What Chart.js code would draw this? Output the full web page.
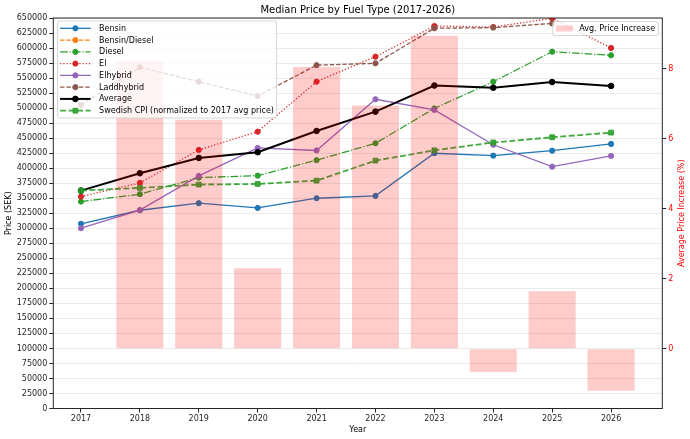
<!DOCTYPE html>
<html>
<head>
<meta charset="utf-8">
<script src="https://cdn.jsdelivr.net/npm/chart.js@4"></script>
<style>
  html, body { margin: 0; padding: 0; background: #fff; }
  #wrap { width: 690px; height: 439px; }
</style>
</head>
<body>
<div id="wrap"><canvas id="chart"></canvas></div>
<script>
const years = [2017, 2018, 2019, 2020, 2021, 2022, 2023, 2024, 2025, 2026];
const bensin = [307500, 330000, 341700, 333900, 350000, 353900, 424900, 420900, 429200, 440400];
const bensinDiesel = [null, null, null, null, null, null, null, null, null, null];
const diesel = [344400, 356700, 384300, 387600, 413300, 441500, 499500, 544000, 593900, 588000];
const el = [352700, 375500, 430400, 460800, 544000, 585600, 636700, 635000, 649500, 600100];
const elhybrid = [300100, 330100, 387100, 433700, 429500, 514700, 497000, 439000, 402600, 420400];
const laddhybrid = [505300, 568000, 544000, 520200, 571500, 574600, 632900, 634000, 641000, null];
const average = [362700, 391600, 417100, 426600, 462000, 494100, 537600, 534000, 543500, 536900];
const cpi = [362700, 367200, 372700, 373800, 379300, 412600, 429800, 442800, 451500, 459200];

const increaseYears = [2018, 2019, 2020, 2021, 2022, 2023, 2024, 2025, 2026];
const increase = [8.22, 6.54, 2.30, 8.05, 6.95, 8.94, -0.67, 1.64, -1.20];
const rightTicks = [0, 2, 4, 6, 8];

const FONT = '"DejaVu Sans", sans-serif';

function pts(vals) {
  return years.map((y, i) => ({ x: y, y: vals[i] }));
}

function lineSet(label, vals, color, opts) {
  return Object.assign({
    type: 'line',
    label,
    data: pts(vals),
    borderColor: color,
    backgroundColor: color,
    pointBackgroundColor: color,
    pointBorderColor: color,
    borderWidth: 1.3,
    pointRadius: 2.6,
    pointBorderWidth: 1,
    pointStyle: 'circle',
    borderDash: [],
    tension: 0,
    yAxisID: 'y'
  }, opts || {});
}

const lines = [
  lineSet('Bensin', bensin, '#1f77b4'),
  lineSet('Bensin/Diesel', bensinDiesel, '#ff7f0e', { borderDash: [4.4, 1.9] }),
  lineSet('Diesel', diesel, '#2ca02c', { borderDash: [7.7, 1.9, 1.2, 1.9] }),
  lineSet('El', el, '#d62728', { borderDash: [1.2, 2] }),
  lineSet('Elhybrid', elhybrid, '#9467bd'),
  lineSet('Laddhybrid', laddhybrid, '#8c564b', { borderDash: [4.4, 1.9] }),
  lineSet('Average', average, '#000000', { borderWidth: 2, pointRadius: 2.8 }),
  lineSet('Swedish CPI (normalized to 2017 avg price)', cpi, 'rgba(44,160,44,0.9)', {
    borderWidth: 1.8, borderDash: [5.9, 2.6], pointStyle: 'rect', pointRadius: 3.4
  })
];
lines.forEach((d, i) => { d.order = 20 - i; });

const bars = {
  type: 'bar',
  label: 'Avg. Price Increase',
  data: increaseYears.map((y, i) => ({ x: y, y: increase[i] })),
  backgroundColor: 'rgba(255,0,0,0.2)',
  borderWidth: 0,
  categoryPercentage: 1,
  barPercentage: 0.8,
  yAxisID: 'y2',
  order: 0
};

function roundRect(ctx, x, y, w, h, r) {
  ctx.beginPath();
  ctx.moveTo(x + r, y);
  ctx.lineTo(x + w - r, y);
  ctx.arcTo(x + w, y, x + w, y + r, r);
  ctx.lineTo(x + w, y + h - r);
  ctx.arcTo(x + w, y + h, x + w - r, y + h, r);
  ctx.lineTo(x + r, y + h);
  ctx.arcTo(x, y + h, x, y + h - r, r);
  ctx.lineTo(x, y + r);
  ctx.arcTo(x, y, x + r, y, r);
  ctx.closePath();
}

function marker(ctx, d, x, y) {
  ctx.fillStyle = d.pointBackgroundColor;
  ctx.strokeStyle = d.pointBorderColor;
  ctx.lineWidth = 1;
  ctx.setLineDash([]);
  ctx.beginPath();
  if (d.pointStyle === 'rect') {
    const s = d.pointRadius * Math.SQRT1_2;
    ctx.rect(x - s, y - s, 2 * s, 2 * s);
  } else {
    ctx.arc(x, y, d.pointRadius, 0, Math.PI * 2);
  }
  ctx.fill();
  ctx.stroke();
}

// matplotlib-like frame, legends and right axis label
const decor = {
  id: 'decor',
  afterDraw(chart) {
    const { ctx, chartArea: a } = chart;
    ctx.save();
    ctx.strokeStyle = '#262626';
    ctx.lineWidth = 1;
    ctx.strokeRect(a.left, a.top, a.right - a.left, a.bottom - a.top);

    // left legend
    const bx = a.left + 4.3, by = a.top + 3, bw = 219, bh = 97;
    roundRect(ctx, bx, by, bw, bh, 2);
    ctx.fillStyle = 'rgba(255,255,255,0.8)';
    ctx.fill();
    ctx.strokeStyle = 'rgba(204,204,204,0.8)';
    ctx.stroke();
    ctx.font = '8px ' + FONT;
    ctx.textBaseline = 'middle';
    lines.forEach((d, i) => {
      const y = by + 7.3 + i * 11.77;
      ctx.strokeStyle = d.borderColor;
      ctx.lineWidth = d.borderWidth;
      ctx.setLineDash(d.borderDash);
      ctx.beginPath();
      ctx.moveTo(bx + 2.5, y);
      ctx.lineTo(bx + 33, y);
      ctx.stroke();
      marker(ctx, d, bx + 17.8, y);
      ctx.fillStyle = '#000';
      ctx.fillText(d.label, bx + 41.5, y + 0.5);
    });

    // right legend
    const rx = a.right - 109.5, ry = a.top + 3.5, rw = 105.5, rh = 14;
    roundRect(ctx, rx, ry, rw, rh, 2);
    ctx.fillStyle = 'rgba(255,255,255,0.8)';
    ctx.fill();
    ctx.strokeStyle = 'rgba(204,204,204,0.8)';
    ctx.lineWidth = 1;
    ctx.setLineDash([]);
    ctx.stroke();
    ctx.fillStyle = bars.backgroundColor;
    ctx.fillRect(rx + 3, ry + 4, 17, 6);
    ctx.fillStyle = '#000';
    ctx.fillText(bars.label, rx + 26.5, ry + 7.5);

    // right axis title (reads bottom to top)
    ctx.translate(chart.width - 8.3, (a.top + a.bottom) / 2);
    ctx.rotate(-Math.PI / 2);
    ctx.textAlign = 'center';
    ctx.fillStyle = 'red';
    ctx.fillText('Average Price Increase (%)', 0, 0);
    ctx.restore();
  }
};

const tickFont = { family: FONT, size: 8 };

new Chart(document.getElementById('chart'), {
  type: 'line',
  data: { datasets: [...lines, bars] },
  options: {
    responsive: true,
    maintainAspectRatio: false,
    animation: false,
    layout: { padding: 0 },
    plugins: {
      legend: { display: false },
      tooltip: { enabled: false },
      title: {
        display: true,
        text: 'Median Price by Fuel Type (2017-2026)',
        fullSize: false,
        color: '#000',
        font: { family: FONT, size: 10, weight: 'normal', lineHeight: 1.2 },
        padding: { top: 4, bottom: 2 }
      }
    },
    scales: {
      x: {
        type: 'linear',
        min: 2016.53,
        max: 2026.87,
        offset: false,
        afterBuildTicks: s => { s.ticks = years.map(v => ({ value: v })); },
        afterFit: s => { s.height = 30.5; },
        ticks: { font: tickFont, color: '#262626', padding: 2, maxRotation: 0, callback: v => String(v) },
        grid: { offset: false, drawOnChartArea: false, tickColor: '#262626', tickLength: 4 },
        border: { display: false },
        title: { display: true, text: 'Year', color: '#000', font: tickFont, padding: { top: 0, bottom: 4 } }
      },
      y: {
        position: 'left',
        min: 0,
        max: 650000,
        ticks: { stepSize: 25000, font: tickFont, color: '#262626', padding: 2, callback: v => String(v) },
        afterFit: s => { s.width = 53.3; },
        grid: { color: '#ebebeb', lineWidth: 1, tickColor: '#262626', tickLength: 4 },
        border: { display: false },
        title: { display: true, text: 'Price (SEK)', color: '#000', font: tickFont, padding: { top: 4.5, bottom: 0 } }
      },
      y2: {
        position: 'right',
        min: -1.71,
        max: 9.45,
        afterBuildTicks: s => { s.ticks = rightTicks.map(v => ({ value: v })); },
        afterFit: s => { s.width = 27.7; },
        ticks: { font: tickFont, color: 'red', padding: 2, callback: v => String(v) },
        grid: { drawOnChartArea: false, tickColor: '#262626', tickLength: 4 },
        border: { display: false }
      }
    }
  },
  plugins: [decor]
});
</script>
</body>
</html>
